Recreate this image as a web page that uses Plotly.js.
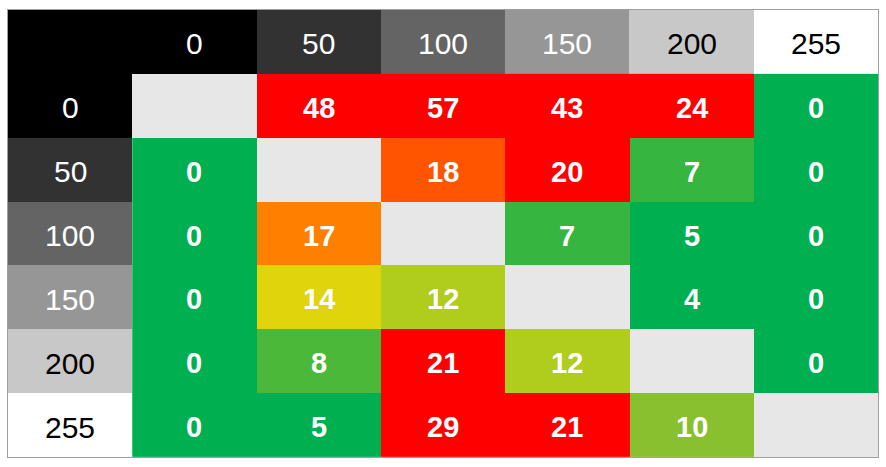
<!DOCTYPE html>
<html>
<head>
<meta charset="utf-8">
<script src="https://cdn.plot.ly/plotly-3.0.1.min.js"></script>
<style>html,body{margin:0;padding:0;background:#fff;}#chart{width:886px;height:467px;}</style>
</head>
<body>
<div id="chart"></div>
<script>
// Gray levels (tick labels for rows and columns)
const levels = [0, 50, 100, 150, 200, 255];
const levelLabels = ['0', '50', '100', '150', '200', '255'];
// Values: rows = row level, columns = column level (diagonal empty)
const row0   = [null, 48, 57, 43, 24, 0];
const row50  = [0, null, 18, 20, 7, 0];
const row100 = [0, 17, null, 7, 5, 0];
const row150 = [0, 14, 12, null, 4, 0];
const row200 = [0, 8, 21, 12, null, 0];
const row255 = [0, 5, 29, 21, 10, null];
const values = [row0, row50, row100, row150, row200, row255];

const n = levels.length;
const allIdx = Array.from({length: n + 1}, (_, i) => i);   // header + levels
const dataIdx = levels.map((_, i) => i + 1);

// Header heatmap: first row and column show the gray level itself
const headerZ = allIdx.map(i => allIdx.map(j => {
  if (i === 0 && j === 0) return levels[0];
  if (i === 0) return levels[j - 1];
  if (j === 0) return levels[i - 1];
  return null;
}));

const headerTrace = {
  type: 'heatmap', x: allIdx, y: allIdx, z: headerZ,
  zmin: 0, zmax: 255,
  colorscale: [[0, 'rgb(0,0,0)'], [1, 'rgb(255,255,255)']],
  showscale: false, hoverinfo: 'skip'
};

const dataTrace = {
  type: 'heatmap', x: dataIdx, y: dataIdx, z: values,
  zmin: 0, zmax: 20,
  colorscale: [
    [0, '#00b050'], [0.25, '#00b050'], [0.35, '#36b540'], [0.4, '#4cb83a'],
    [0.5, '#88c030'], [0.6, '#b0cc1c'], [0.7, '#e0d40c'], [0.85, '#ff8000'],
    [0.9, '#ff5500'], [1, '#ff0000']
  ],
  showscale: false, hoverinfo: 'skip'
};

const annotations = [];
const font = 'Liberation Sans, Arial, sans-serif';
// header texts
levelLabels.forEach((lab, k) => {
  const col = levels[k] < 175 ? '#ffffff' : '#000000';
  annotations.push({x: k + 1, y: 0, text: lab, showarrow: false,
    font: {family: font, size: 30, color: col}, yshift: -2});
  annotations.push({x: 0, y: k + 1, text: lab, showarrow: false,
    font: {family: font, size: 30, color: col}, yshift: -2});
});
// value texts
values.forEach((row, i) => row.forEach((v, j) => {
  if (v === null) return;
  annotations.push({x: j + 1, y: i + 1, text: '<b>' + v + '</b>', showarrow: false,
    font: {family: font, size: 29, color: '#ffffff'}, yshift: -2});
}));

const layout = {
  width: 886, height: 467,
  margin: {l: 8, r: 8, t: 10, b: 10, pad: 0},
  paper_bgcolor: '#ffffff', plot_bgcolor: '#e7e7e7',
  xaxis: {range: [-0.5, n + 0.5], showticklabels: false, ticks: '', showgrid: false, zeroline: false,
    showline: true, mirror: true, linecolor: '#a0a0a0', linewidth: 1},
  yaxis: {range: [n + 0.5, -0.5], showticklabels: false, ticks: '', showgrid: false, zeroline: false,
    showline: true, mirror: true, linecolor: '#a0a0a0', linewidth: 1},
  annotations: annotations,
  showlegend: false
};

Plotly.newPlot('chart', [headerTrace, dataTrace], layout, {displayModeBar: false, staticPlot: true});
</script>
</body>
</html>
